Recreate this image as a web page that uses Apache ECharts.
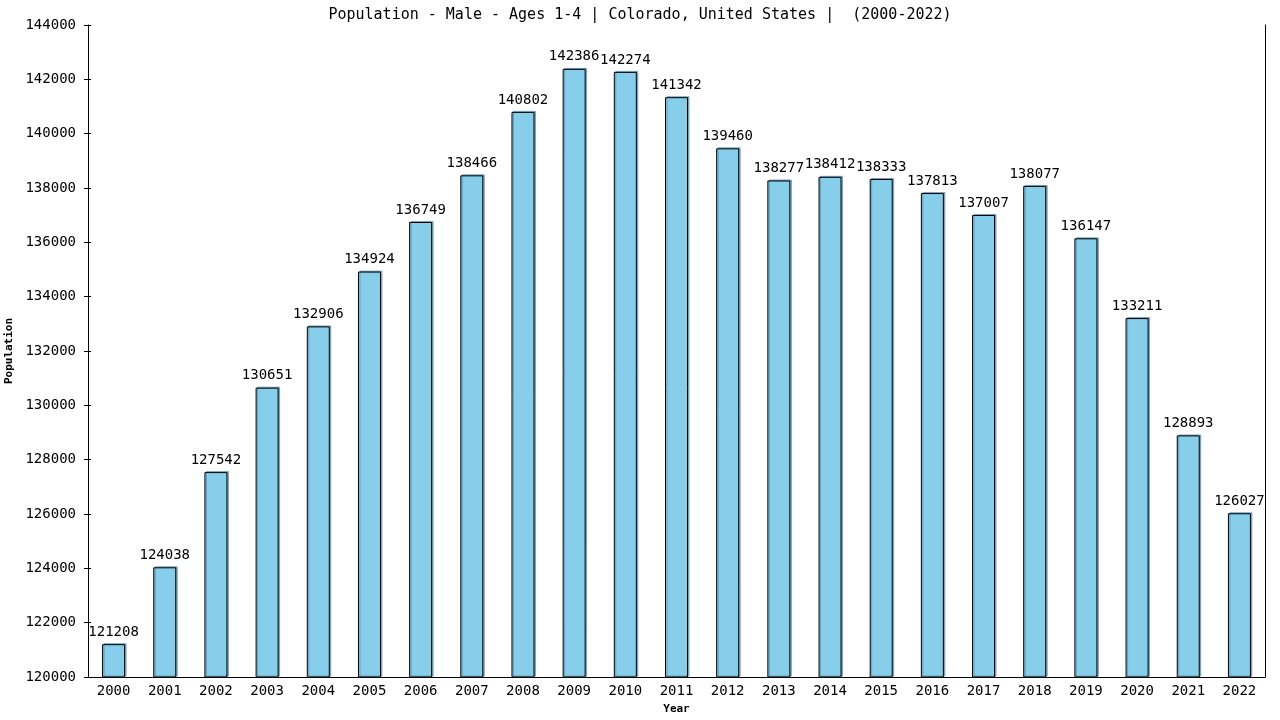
<!DOCTYPE html>
<html><head><meta charset="utf-8">
<script src="https://cdn.jsdelivr.net/npm/echarts@6/dist/echarts.min.js"></script>
<style>html,body{margin:0;padding:0;background:#fff}#c{width:1280px;height:720px}</style>
</head><body><div id="c"></div>
<script>
const years = ['2000','2001','2002','2003','2004','2005','2006','2007','2008','2009','2010','2011','2012','2013','2014','2015','2016','2017','2018','2019','2020','2021','2022'];
const population = [121208,124038,127542,130651,132906,134924,136749,138466,140802,142386,142274,141342,139460,138277,138412,138333,137813,137007,138077,136147,133211,128893,126027];
const yTicks = {min:120000, max:144000, interval:2000};
const titleText = 'Population - Male - Ages 1-4 | Colorado, United States |  (2000-2022)';

const font = 'DejaVu Sans Mono';
const chart = echarts.init(document.getElementById('c'));
chart.setOption({
  animation:false,
  backgroundColor:'#fff',
  title:{text:titleText,left:'center',top:3,textStyle:{fontFamily:font,fontSize:15,fontWeight:'normal',color:'#000'}},
  grid:{left:88,right:15,top:25,bottom:43,containLabel:false,outerBoundsMode:'none'},
  xAxis:{type:'category',data:years,name:'Year',nameLocation:'middle',nameGap:27,
    nameTextStyle:{fontFamily:font,fontSize:11,fontWeight:'bold',color:'#000'},
    axisLine:{lineStyle:{color:'#000',width:1}},axisTick:{show:false},
    axisLabel:{fontFamily:font,fontSize:14,color:'#000',margin:7,interval:0}},
  yAxis:[
    {type:'value',min:yTicks.min,max:yTicks.max,interval:yTicks.interval,name:'Population',nameLocation:'middle',nameGap:70,
     nameTextStyle:{fontFamily:font,fontSize:11,fontWeight:'bold',color:'#000'},
     axisLine:{show:true,lineStyle:{color:'#000'}},axisTick:{show:true,length:4,lineStyle:{color:'#000'}},
     splitLine:{show:false},axisLabel:{fontFamily:font,fontSize:14,color:'#000',margin:12,formatter:v=>String(v)}},
    {type:'value',position:'left',min:yTicks.min,max:yTicks.max,interval:yTicks.interval,
     axisLine:{show:false},axisTick:{show:true,inside:true,length:3,lineStyle:{color:'#000'}},
     axisLabel:{show:false},splitLine:{show:false}},
    {type:'value',position:'right',min:yTicks.min,max:yTicks.max,interval:yTicks.interval,
     axisLine:{show:true,lineStyle:{color:'#000'}},axisTick:{show:false},axisLabel:{show:false},splitLine:{show:false}}
  ],
  series:[{type:'bar',data:population,barWidth:23,
    itemStyle:{color:'#87ceeb',borderColor:'#000',borderWidth:1,shadowColor:'rgba(90,140,170,0.7)',shadowOffsetX:1.5,shadowOffsetY:-1,shadowBlur:0},
    label:{show:true,position:'top',distance:5,fontFamily:font,fontSize:14,color:'#000'}}]
});
</script></body></html>
